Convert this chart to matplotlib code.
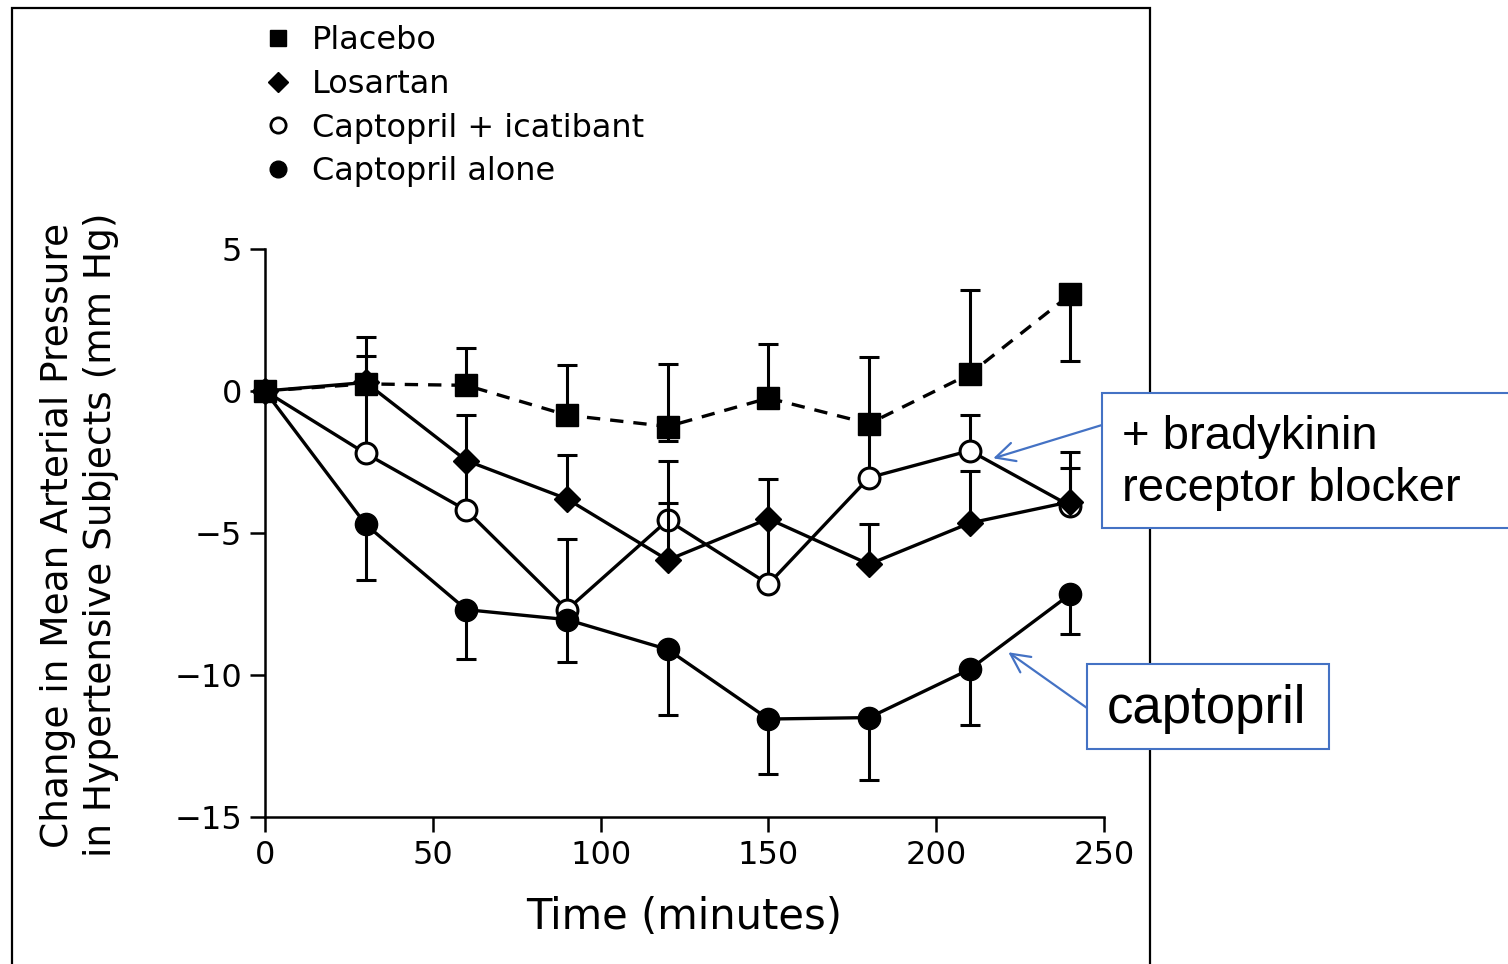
import matplotlib
matplotlib.use("Agg")
import matplotlib.pyplot as plt
from matplotlib.lines import Line2D
from matplotlib.patches import Rectangle

# time points (minutes)
time = [0, 30, 60, 90, 120, 150, 180, 210, 240]

# change in mean arterial pressure (mm Hg)
placebo = [0, 0.25, 0.2, -0.85, -1.25, -0.25, -1.15, 0.6, 3.4]
placebo_lo = [0, 0, 0, 0, 0.5, 0, 0, 0, 2.35]
placebo_up = [0, 1.65, 1.3, 1.75, 2.2, 1.9, 2.35, 2.95, 0]

losartan = [0, 0.3, -2.45, -3.8, -5.95, -4.5, -6.1, -4.65, -3.9]
losartan_up = [0, 0.95, 1.6, 1.55, 2.0, 1.4, 1.4, 1.85, 1.75]

icatibant = [0, -2.2, -4.2, -7.7, -4.55, -6.8, -3.05, -2.1, -4.05]
icatibant_up = [0, 2.4, 1.75, 2.5, 2.1, 2.3, 1.9, 1.25, 1.35]

captopril = [0, -4.7, -7.7, -8.05, -9.1, -11.55, -11.5, -9.8, -7.15]
captopril_lo = [0, 1.95, 1.75, 1.5, 2.3, 1.95, 2.2, 1.95, 1.4]

zeros = [0] * len(time)

legend_labels = ["Placebo", "Losartan", "Captopril + icatibant", "Captopril alone"]
xticks = [0, 50, 100, 150, 200, 250]
yticks = [5, 0, -5, -10, -15]

blue = "#4472C4"
plt.rcParams["font.family"] = "DejaVu Sans"

fig = plt.figure(figsize=(15.08, 9.64), dpi=100)
ax = fig.add_axes([265/1508, 1-817/964, 839/1508, 568/964])

eb = dict(ecolor="k", elinewidth=2.2, capsize=7, capthick=2.2, clip_on=False)

ax.errorbar(time, icatibant, yerr=[zeros, icatibant_up], fmt="o-", color="k",
            mfc="white", mec="k", mew=2.2, ms=15, lw=2.4, zorder=3, **eb)
ax.errorbar(time, losartan, yerr=[zeros, losartan_up], fmt="D-", color="k",
            ms=13, lw=2.4, zorder=4, **eb)
ax.errorbar(time, captopril, yerr=[captopril_lo, zeros], fmt="o-", color="k",
            ms=16, lw=2.4, zorder=5, **eb)
ax.errorbar(time, placebo, yerr=[placebo_lo, placebo_up], fmt="s--", color="k",
            ms=16, lw=2.4, dashes=(4, 3), zorder=6, **eb)

ax.set_xlim(0, 250)
ax.set_ylim(-15, 5)
ax.set_xticks(xticks)
ax.set_yticks(yticks)
ax.set_yticklabels(["5", "0", "\u22125", "\u221210", "\u221215"])
for s in ["top", "right"]:
    ax.spines[s].set_visible(False)
for s in ["left", "bottom"]:
    ax.spines[s].set_linewidth(1.8)
ax.tick_params(direction="out", length=10.5, width=1.8, labelsize=23, pad=6)
ax.patch.set_alpha(0)

ax.set_xlabel("Time (minutes)", fontsize=30)
ax.xaxis.set_label_coords(0.5, -0.139)
fig.text(80/1508, 1-535/964,
         "Change in Mean Arterial Pressure\nin Hypertensive Subjects (mm Hg)",
         rotation=90, ha="center", va="center", fontsize=27, linespacing=1.25)

handles = [
    Line2D([], [], ls="none", marker="s", color="k", ms=11),
    Line2D([], [], ls="none", marker="D", color="k", ms=10),
    Line2D([], [], ls="none", marker="o", mfc="white", mec="k", mew=2, ms=11),
    Line2D([], [], ls="none", marker="o", color="k", ms=12),
]
fig.legend(handles, legend_labels, loc="upper left",
           bbox_to_anchor=(262/1508, 1-25/964), frameon=False, fontsize=23,
           borderpad=0, borderaxespad=0, handlelength=1.0, handletextpad=0.55,
           labelspacing=0.4)

# outer frame of the pasted figure
fig.patches.append(Rectangle((12/1508, -0.05), (1150-12)/1508, 1.05-8/964,
                             transform=fig.transFigure, fill=False,
                             edgecolor="k", lw=1.6, zorder=0))

# callout boxes
fig.patches.append(Rectangle((1102/1508, 1-528/964), 0.3, 135/964,
                             transform=fig.transFigure, facecolor="white",
                             edgecolor=blue, lw=1.5, zorder=5))
fig.patches.append(Rectangle((1087/1508, 1-749/964), 242/1508, 85/964,
                             transform=fig.transFigure, facecolor="white",
                             edgecolor=blue, lw=1.5, zorder=5))
fig.text(1122/1508, 1-463/964, "+ bradykinin\nreceptor blocker", fontsize=34,
         family="Liberation Sans", va="center", ha="left", linespacing=1.22, zorder=6)
fig.text(1107/1508, 1-709/964, "captopril", fontsize=38,
         family="Liberation Sans", va="center", ha="left", zorder=6)

arrow = dict(arrowstyle="->", color=blue, lw=1.6, mutation_scale=34,
             shrinkA=0, shrinkB=0)
ax.annotate("", xy=(217, -2.37), xytext=(1102/1508, 1-425/964),
            textcoords="figure fraction", arrowprops=arrow, annotation_clip=False)
ax.annotate("", xy=(221.5, -9.2), xytext=(1087/1508, 1-708/964),
            textcoords="figure fraction", arrowprops=arrow, annotation_clip=False)

fig.savefig("out.png", dpi=100)
